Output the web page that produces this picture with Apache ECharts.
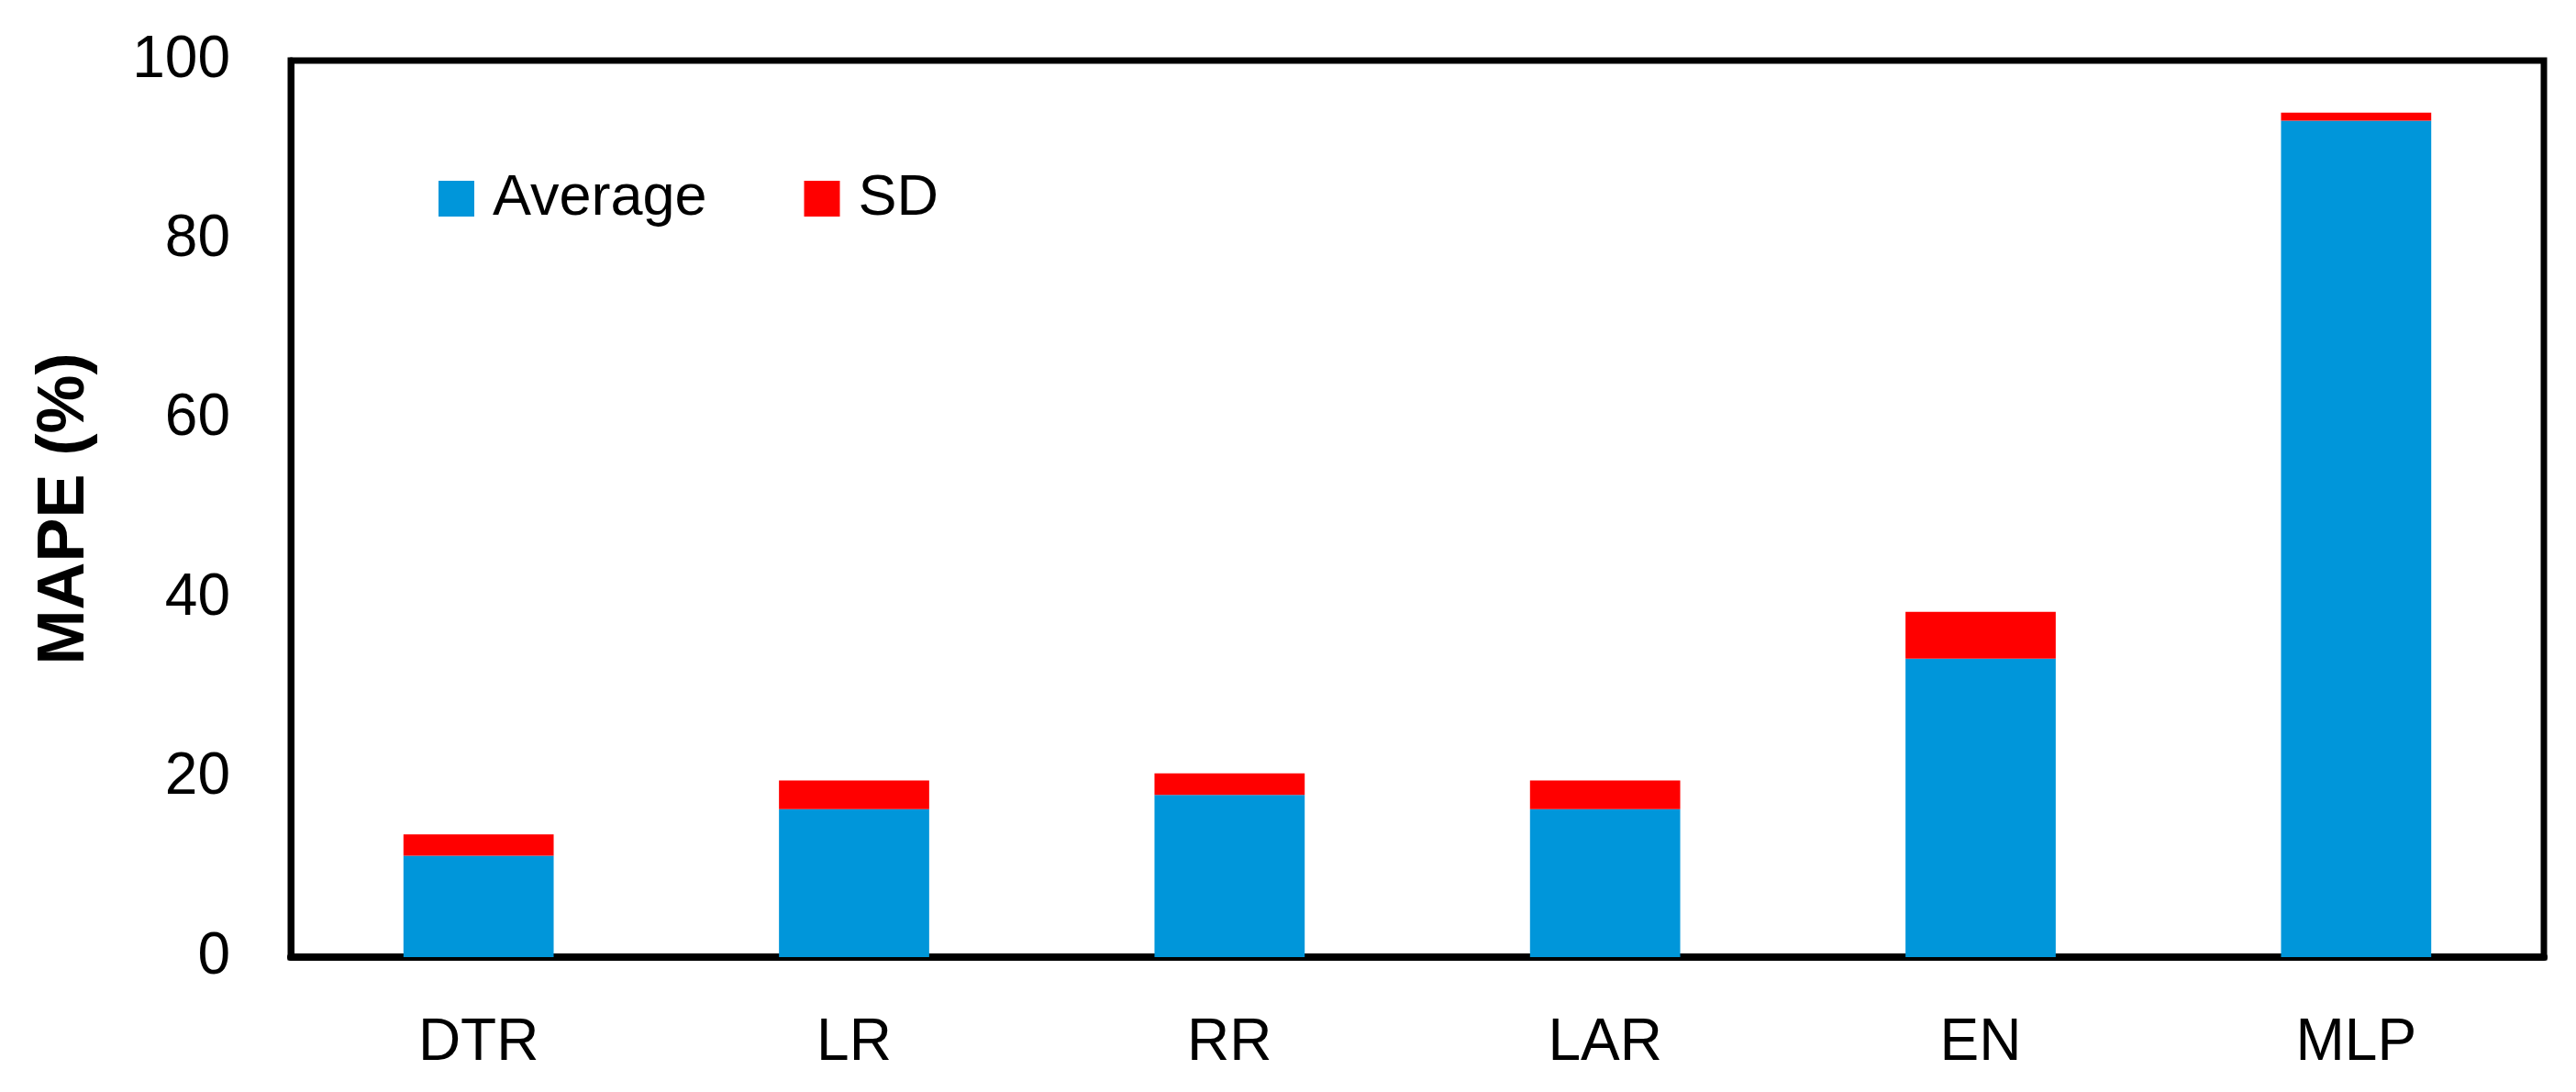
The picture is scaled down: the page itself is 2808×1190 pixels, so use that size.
<!DOCTYPE html>
<html>
<head>
<meta charset="utf-8">
<script src="https://cdn.jsdelivr.net/npm/echarts@6/dist/echarts.min.js"></script>
<style>
  html, body { margin: 0; padding: 0; background: #fff; }
  #main { width: 2808px; height: 1190px; }
</style>
</head>
<body>
<div id="main"></div>
<script>
var categories = ['DTR', 'LR', 'RR', 'LAR', 'EN', 'MLP'];
var averageValues = [11.3, 16.5, 18.1, 16.5, 33.3, 93.3];
var sdValues = [2.4, 3.2, 2.4, 3.2, 5.2, 0.9];
var yTicks = { min: 0, max: 100, interval: 20 };

var font = '"Liberation Sans", Arial, sans-serif';
var chart = echarts.init(document.getElementById('main'));

option = {
    backgroundColor: '#ffffff',
    animation: false,
    grid: {
        left: 317,
        top: 66,
        right: 35,
        bottom: 147,
        show: true,
        borderColor: '#000',
        borderWidth: 7,
        outerBoundsMode: 'none'
    },
    legend: {
        left: 473,
        top: 180,
        itemWidth: 39,
        itemHeight: 39,
        itemGap: 106,
        icon: 'rect',
        textStyle: {
            fontFamily: font,
            fontSize: 63,
            color: '#000',
            padding: [0, 0, 0, 15]
        },
        data: ['Average', 'SD']
    },
    xAxis: {
        type: 'category',
        data: categories,
        axisLine: { lineStyle: { color: '#000', width: 8 } },
        axisTick: { show: false },
        axisLabel: {
            fontFamily: font,
            fontSize: 64,
            color: '#000',
            margin: 62
        }
    },
    yAxis: {
        type: 'value',
        min: yTicks.min,
        max: yTicks.max,
        interval: yTicks.interval,
        name: 'MAPE (%)',
        nameLocation: 'middle',
        nameGap: 210,
        nameTextStyle: {
            fontFamily: font,
            fontSize: 72,
            fontWeight: 'bold',
            color: '#000'
        },
        axisLine: { show: true, lineStyle: { color: '#000', width: 7 } },
        axisTick: { show: false },
        splitLine: { show: false },
        axisLabel: {
            fontFamily: font,
            fontSize: 64,
            color: '#000',
            margin: 66
        }
    },
    series: [
        {
            name: 'Average',
            type: 'bar',
            stack: 'mape',
            barWidth: '40%',
            itemStyle: { color: '#0096DA' },
            data: averageValues
        },
        {
            name: 'SD',
            type: 'bar',
            stack: 'mape',
            barWidth: '40%',
            itemStyle: { color: '#FF0000' },
            data: sdValues
        }
    ]
};
chart.setOption(option);
</script>
</body>
</html>
